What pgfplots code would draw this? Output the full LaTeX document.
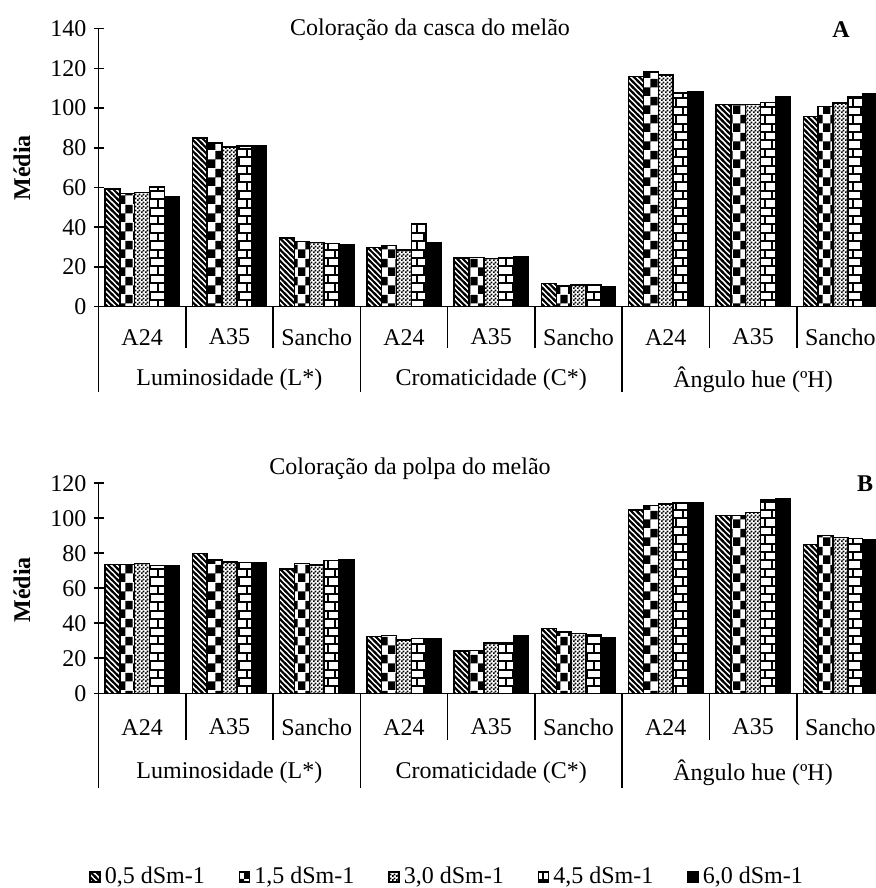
\documentclass[border=0pt]{standalone}
\usepackage{fontspec}
\setmainfont{Liberation Serif}
\usepackage{pgfplots}
\usepackage{pgfplotstable}
\pgfplotsset{compat=1.18}
\usetikzlibrary{patterns}

% fill patterns for the five salinity levels
\pgfdeclarepatternformonly{diagstripes}{\pgfqpoint{-1pt}{-1pt}}{\pgfqpoint{3.8pt}{3.8pt}}{\pgfqpoint{2.8pt}{2.8pt}}{%
  \pgfsetlinewidth{1.05pt}%
  \pgfpathmoveto{\pgfqpoint{-0.5pt}{3.3pt}}%
  \pgfpathlineto{\pgfqpoint{3.3pt}{-0.5pt}}%
  \pgfusepath{stroke}}
\pgfdeclarepatternformonly{bigchecker}{\pgfpointorigin}{\pgfqpoint{7.4pt}{9pt}}{\pgfqpoint{7.4pt}{9pt}}{%
  \pgfpathrectangle{\pgfpointorigin}{\pgfqpoint{3.7pt}{4.5pt}}%
  \pgfpathrectangle{\pgfqpoint{3.7pt}{4.5pt}}{\pgfqpoint{3.7pt}{4.5pt}}%
  \pgfusepath{fill}}
\pgfdeclarepatternformonly{finechecker}{\pgfpointorigin}{\pgfqpoint{1.8pt}{1.8pt}}{\pgfqpoint{1.8pt}{1.8pt}}{%
  \pgfpathrectangle{\pgfpointorigin}{\pgfqpoint{0.95pt}{0.95pt}}%
  \pgfpathrectangle{\pgfqpoint{0.9pt}{0.9pt}}{\pgfqpoint{0.95pt}{0.95pt}}%
  \pgfusepath{fill}}
\pgfdeclarepatternformonly{brickrows}{\pgfqpoint{-0.5pt}{-0.5pt}}{\pgfqpoint{7.9pt}{8.9pt}}{\pgfqpoint{7.4pt}{8.4pt}}{%
  \pgfsetlinewidth{0.95pt}%
  \pgfpathmoveto{\pgfqpoint{-0.5pt}{0pt}}\pgfpathlineto{\pgfqpoint{7.9pt}{0pt}}%
  \pgfpathmoveto{\pgfqpoint{-0.5pt}{4.2pt}}\pgfpathlineto{\pgfqpoint{7.9pt}{4.2pt}}%
  \pgfpathmoveto{\pgfqpoint{1.2pt}{0pt}}\pgfpathlineto{\pgfqpoint{1.2pt}{4.2pt}}%
  \pgfpathmoveto{\pgfqpoint{4.9pt}{4.2pt}}\pgfpathlineto{\pgfqpoint{4.9pt}{8.4pt}}%
  \pgfusepath{stroke}}

% peel colour (casca): groups L*, C*, hue x cultivars A24, A35, Sancho
\pgfplotstableread{
x    s1    s2    s3    s4    s5
0.5  59.2  57.1  57.5  60.3  55.5
1.5  84.9  82.5  80.3  81.0  80.8
2.5  34.5  32.8  32.3  31.9  31.3
3.5  29.9  30.8  28.6  42.0  32.3
4.5  24.5  24.7  24.2  24.4  25.2
5.5  11.6  10.4  10.9  10.9   9.9
6.5 116.0 118.3 116.8 107.6 108.2
7.5 101.8 101.8 101.7 102.9 105.5
8.5  95.8 100.8 102.5 105.5 107.4
}\casca

% pulp colour (polpa)
\pgfplotstableread{
x    s1    s2    s3    s4    s5
0.5  73.7  73.7  74.1  73.1  72.8
1.5  80.0  76.2  75.0  74.7  74.5
2.5  70.9  74.3  73.3  75.8  76.2
3.5  32.4  33.1  30.5  31.2  30.9
4.5  24.2  24.4  28.6  28.6  33.0
5.5  37.0  35.0  34.3  33.5  31.8
6.5 104.8 107.4 108.2 108.8 109.1
7.5 101.5 101.7 103.4 110.5 111.0
8.5  85.1  90.1  88.9  88.4  87.8
}\polpa

\pgfplotsset{
  colorbars/.style={
    scale only axis, width=392.75pt,
    xmin=0, xmax=9, ymin=0,
    axis lines=left,
    axis line style={-, line width=0.8pt},
    xtick=\empty,
    tick align=center, major tick length=5pt,
    tick style={line width=0.8pt, black},
    /pgf/number format/assume math mode=true,
    ybar=0pt, bar width=0.17,
    clip=false,
    legend image code/.code={\draw[##1, line width=0.75pt] (0pt,-2.5pt) rectangle (5pt,2.5pt);},
  },
  lv1/.style={draw=black, line width=0.75pt, pattern=diagstripes},
  lv2/.style={draw=black, line width=0.75pt, pattern=bigchecker},
  lv3/.style={draw=black, line width=0.75pt, pattern=finechecker},
  lv4/.style={draw=black, line width=0.75pt, pattern=brickrows},
  lv5/.style={draw=black, line width=0.75pt, fill=black},
}

\begin{document}
\begin{tikzpicture}[font=\fontsize{12}{14}\selectfont]

% ---------- A: casca ----------
\begin{axis}[colorbars,
  at={(49.25pt,290.65pt)}, anchor=south west,
  height=139pt, ymax=140, ytick={0,20,...,140}]
\addplot[lv1] table[x=x,y=s1] {\casca};
\addplot[lv2] table[x=x,y=s2] {\casca};
\addplot[lv3] table[x=x,y=s3] {\casca};
\addplot[lv4] table[x=x,y=s4] {\casca};
\addplot[lv5] table[x=x,y=s5] {\casca};
\pgfplotsinvokeforeach{1,2,4,5,7,8}{\draw[line width=0.8pt] (axis cs:#1,0) -- ++(0,-20.5pt);}
\pgfplotsinvokeforeach{0,3,6,9}{\draw[line width=0.8pt] (axis cs:#1,0) -- ++(0,-42.5pt);}
\pgfplotsinvokeforeach{0.5,3.5,6.5}{\node at (axis cs:#1,0) [yshift=-15.2pt] {A24};}
\pgfplotsinvokeforeach{1.5,4.5,7.5}{\node at (axis cs:#1,0) [yshift=-15.2pt] {A35};}
\pgfplotsinvokeforeach{2.5,5.5,8.5}{\node at (axis cs:#1,0) [yshift=-15.2pt] {Sancho};}
\node at (axis cs:1.5,0) [yshift=-36.5pt] {Luminosidade (L*)};
\node at (axis cs:4.5,0) [yshift=-36.5pt] {Cromaticidade (C*)};
\node at (axis cs:7.5,0) [yshift=-36.5pt] {Ângulo hue (ºH)};
\end{axis}

% ---------- B: polpa ----------
\begin{axis}[colorbars,
  at={(49.25pt,97.35pt)}, anchor=south west,
  height=105pt, ymax=120, ytick={0,20,...,120},
  legend columns=5,
  legend style={draw=none, fill=none, at={(axis description cs:0.445,-0.875)}, anchor=center,
    font=\fontsize{12}{14}\selectfont,
    /tikz/every odd column/.append style={column sep=0pt},
    /tikz/every even column/.append style={column sep=15pt}}]
\addplot[lv1] table[x=x,y=s1] {\polpa}; \addlegendentry{0,5 dSm-1}
\addplot[lv2] table[x=x,y=s2] {\polpa}; \addlegendentry{1,5 dSm-1}
\addplot[lv3] table[x=x,y=s3] {\polpa}; \addlegendentry{3,0 dSm-1}
\addplot[lv4] table[x=x,y=s4] {\polpa}; \addlegendentry{4,5 dSm-1}
\addplot[lv5] table[x=x,y=s5] {\polpa}; \addlegendentry{6,0 dSm-1}
\pgfplotsinvokeforeach{1,2,4,5,7,8}{\draw[line width=0.8pt] (axis cs:#1,0) -- ++(0,-23.5pt);}
\pgfplotsinvokeforeach{0,3,6,9}{\draw[line width=0.8pt] (axis cs:#1,0) -- ++(0,-47.5pt);}
\pgfplotsinvokeforeach{0.5,3.5,6.5}{\node at (axis cs:#1,0) [yshift=-16.9pt] {A24};}
\pgfplotsinvokeforeach{1.5,4.5,7.5}{\node at (axis cs:#1,0) [yshift=-16.9pt] {A35};}
\pgfplotsinvokeforeach{2.5,5.5,8.5}{\node at (axis cs:#1,0) [yshift=-16.9pt] {Sancho};}
\node at (axis cs:1.5,0) [yshift=-39.5pt] {Luminosidade (L*)};
\node at (axis cs:4.5,0) [yshift=-39.5pt] {Cromaticidade (C*)};
\node at (axis cs:7.5,0) [yshift=-39.5pt] {Ângulo hue (ºH)};
\end{axis}

% titles, panel letters and axis titles
\node at (215pt,429pt) {Coloração da casca do melão};
\node[font=\fontsize{12}{14}\selectfont\bfseries] at (420.5pt,429pt) {A};
\node at (205pt,209.5pt) {Coloração da polpa do melão};
\node[font=\fontsize{12}{14}\selectfont\bfseries] at (432.5pt,202pt) {B};
\node[rotate=90, font=\fontsize{12}{14}\selectfont\bfseries] at (11pt,360pt) {Média};
\node[rotate=90, font=\fontsize{12}{14}\selectfont\bfseries] at (11pt,149pt) {Média};

\pgfresetboundingbox
\useasboundingbox (0,0) rectangle (437.5pt,444pt);
\end{tikzpicture}
\end{document}
